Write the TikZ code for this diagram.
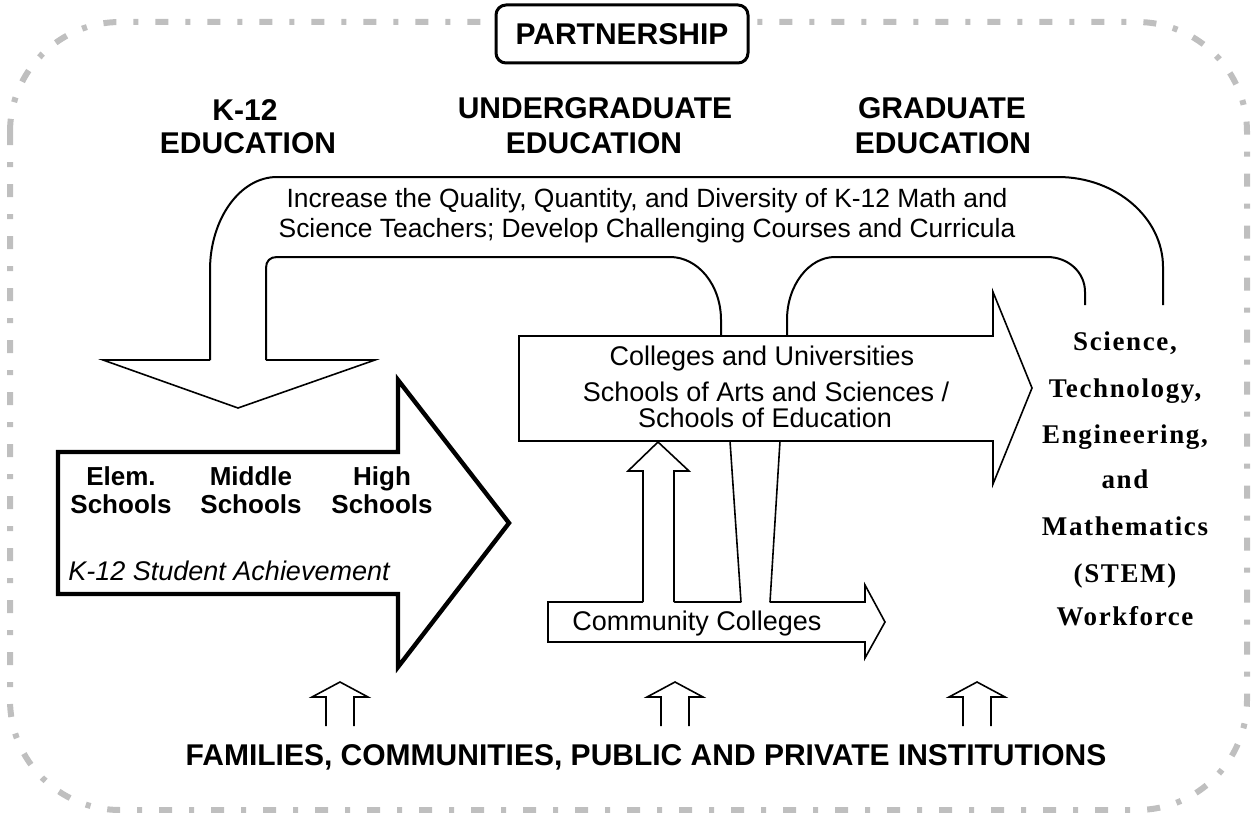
\documentclass[tikz,border=0pt]{standalone}
\usepackage{fontspec}
\setmainfont{Liberation Sans}
\newfontfamily\stemfont[LetterSpace=6]{Liberation Serif}
\begin{document}
\begin{tikzpicture}[x=0.5pt,y=-0.5pt,
  frame/.style={draw=black!25, line width=3pt,
    dash pattern=on 6.5pt off 8.5pt on 2.5pt off 8.5pt, rounded corners=55pt},
  outline/.style={draw=black, line width=0.8pt, line join=miter},
  loopline/.style={draw=black, line width=1pt},
  heavy/.style={draw=black, line width=2.2pt, line join=miter},
  lbl/.style={inner sep=0pt, anchor=base},
  head/.style={lbl, font=\fontsize{15}{18}\selectfont\bfseries},
  body/.style={lbl, font=\fontsize{13.5}{16}\selectfont},
  goal/.style={lbl, font=\fontsize{13.2}{16}\selectfont},
  level/.style={lbl, font=\fontsize{13}{16}\selectfont\bfseries},
  stem/.style={lbl, font=\fontsize{13.5}{16}\stemfont\bfseries},
]
\useasboundingbox (0,0) rectangle (1257,813);

% dash-dotted partnership frame
\draw[frame] (10,22) rectangle (1247,810);
\node[draw, line width=1.5pt, rounded corners=5pt, fill=white,
  minimum width=126pt, minimum height=29pt, inner sep=0pt,
  font=\fontsize{15}{18}\selectfont\bfseries] (partner) at (622,34) {PARTNERSHIP};

% column headings
\node[head] (k12a) at (245,120) {K-12};
\node[head] (k12b) at (248,153) {EDUCATION};
\node[head] (uga) at (595,119) {UNDERGRADUATE};
\node[head] (ugb) at (594,154) {EDUCATION};
\node[head] (gra) at (942,119) {GRADUATE};
\node[head] (grb) at (943,154) {EDUCATION};

% colleges and universities arrow
\draw[outline, fill=white] (519,336) -- (993,336) -- (993,292) -- (1032,388)
  -- (993,484) -- (993,441) -- (519,441) -- cycle;

% feedback loop band
\draw[loopline] (210,360) -- (210,270) .. controls (210,219) and (240,177) .. (277,177)
  -- (1058,177) .. controls (1116,177) and (1163,218) .. (1163,267) -- (1163,305);
\draw[loopline] (266,360) -- (266,268) .. controls (266,261) and (270,257) .. (277,257)
  -- (670,257) .. controls (698,257) and (721,285) .. (721,320) -- (721,336);
\draw[loopline] (787,336) -- (787,320) .. controls (787,285) and (809,257) .. (835,257)
  -- (1047,257) .. controls (1068,257) and (1085,272) .. (1085,292) -- (1085,305);
\draw[outline] (210,360) -- (103,360) -- (238,408) -- (375,360) -- (266,360);

\node[goal] (goal1) at (647,207) {Increase the Quality, Quantity, and Diversity of K-12 Math and};
\node[goal] (goal2) at (647,237) {Science Teachers; Develop Challenging Courses and Curricula};

% K-12 arrow
\draw[heavy] (58,452) -- (398,452) -- (398,380) -- (509,523) -- (398,667)
  -- (398,594) -- (58,594) -- cycle;
\node[level] (el1) at (121,485) {Elem.};
\node[level] (el2) at (121,513) {Schools};
\node[level] (mi1) at (251,485) {Middle};
\node[level] (mi2) at (251,513) {Schools};
\node[level] (hi1) at (382,485) {High};
\node[level] (hi2) at (382,513) {Schools};
\node[body, anchor=base west, font=\fontsize{13.5}{16}\selectfont\itshape] (ach) at (68,580) {K-12 Student Achievement};

% community colleges arrow and its links upward
\draw[outline, fill=white] (548,602) -- (865,602) -- (865,585) -- (885,622)
  -- (865,658) -- (865,642) -- (548,642) -- cycle;
\fill[white] (643,604) -- (643,471) -- (628,471) -- (658,443) -- (689,471)
  -- (674,471) -- (674,604) -- cycle;
\draw[outline] (643,602) -- (643,471) -- (628,471) -- (658,442) -- (689,471)
  -- (674,471) -- (674,602);
\fill[white] (731,443) -- (741.5,604) -- (769.5,604) -- (779,443) -- cycle;
\draw[outline] (730,441) -- (741,602);
\draw[outline] (780,441) -- (770,602);
\node[body, anchor=base west] (cc) at (572,630) {Community Colleges};

\node[body] (cu1) at (762,365) {Colleges and Universities};
\node[body] (cu2) at (766,401) {Schools of Arts and Sciences /};
\node[body] (cu3) at (765,427) {Schools of Education};

% STEM workforce
\node[stem] (s1) at (1125,350) {Science,};
\node[stem] (s2) at (1125,397) {Technology,};
\node[stem] (s3) at (1125,443) {Engineering,};
\node[stem] (s4) at (1125,488) {and};
\node[stem] (s5) at (1125,535) {Mathematics};
\node[stem] (s6) at (1125,582) {(STEM)};
\node[stem] (s7) at (1125,625) {Workforce};

% supporting partners
\foreach \cx in {340,675,977}
  \draw[outline] ({\cx-14},726) -- ({\cx-14},697) -- ({\cx-28},697) -- (\cx,682)
    -- ({\cx+28},697) -- ({\cx+14},697) -- ({\cx+14},726);
\node[head] (fam) at (646,765) {FAMILIES, COMMUNITIES, PUBLIC AND PRIVATE INSTITUTIONS};
\end{tikzpicture}
\end{document}
